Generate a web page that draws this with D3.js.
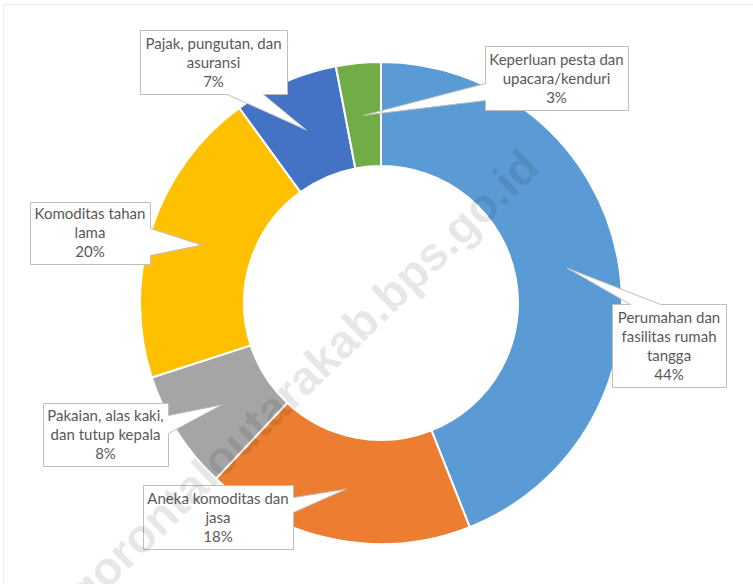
<!DOCTYPE html>
<html>
<head>
  <meta charset="utf-8">
  <title>Donut - Pengeluaran Non Makanan</title>
  <script src="https://d3js.org/d3.v7.min.js"></script>
  <style>
    body { margin: 0; background: #fff; }
    .callout path { fill: #fff; stroke: #bfbfbf; stroke-width: 1; }
    .callout text { font-family: Lato, "Open Sans", sans-serif; font-size: 15px; fill: #595959; }
  </style>
</head>
<body>
  <svg id="chart" width="753" height="584"></svg>

  <script>
    // data, clockwise from 12 o'clock
    const categories = [
      "Perumahan dan fasilitas rumah tangga",
      "Aneka komoditas dan jasa",
      "Pakaian, alas kaki, dan tutup kepala",
      "Komoditas tahan lama",
      "Pajak, pungutan, dan asuransi",
      "Keperluan pesta dan upacara/kenduri"
    ];
    const shares = [44, 18, 8, 20, 7, 3];
    const labelLines = [
      ["Perumahan dan", "fasilitas rumah", "tangga"],
      ["Aneka komoditas dan", "jasa"],
      ["Pakaian, alas kaki,", "dan tutup kepala"],
      ["Komoditas tahan", "lama"],
      ["Pajak, pungutan, dan", "asuransi"],
      ["Keperluan pesta dan", "upacara/kenduri"]
    ];
    const colors = ["#5b9bd5", "#ed7d31", "#a5a5a5", "#ffc000", "#4472c4", "#70ad47"];

    // callout boxes: x, y, w, h, side the pointer leaves from, pointer base span on that side
    const boxes = [
      { x: 612, y: 304, w: 114, h: 83, side: "top", b0: 18, b1: 48 },
      { x: 143, y: 485, w: 150, h: 64, side: "right", b0: 12, b1: 27 },
      { x: 43, y: 403, w: 125, h: 63, side: "right", b0: 12, b1: 30 },
      { x: 30, y: 202, w: 120, h: 62, side: "right", b0: 26, b1: 53 },
      { x: 140, y: 30, w: 147, h: 64, side: "bottom", b0: 87, b1: 123 },
      { x: 485, y: 46, w: 143, h: 64, side: "left", b0: 37, b1: 54 }
    ];

    const svg = d3.select("#chart");
    const cx = 381, cy = 303, rOuter = 241, rInner = 137;

    svg.append("rect")
      .attr("x", 3.5).attr("y", 4.5)
      .attr("width", 800).attr("height", 700)
      .attr("fill", "none").attr("stroke", "#eeeeee");

    const pie = d3.pie().sort(null).value(d => d);
    const arcs = pie(shares);
    const arc = d3.arc().innerRadius(rInner).outerRadius(rOuter);

    const g = svg.append("g").attr("transform", `translate(${cx},${cy})`);

    g.selectAll("path.slice")
      .data(arcs)
      .join("path")
      .attr("class", "slice")
      .attr("d", arc)
      .attr("fill", (d, i) => colors[i])
      .attr("stroke", "#fff")
      .attr("stroke-width", 2)
      .append("title")
      .text((d, i) => `${categories[i]}: ${shares[i]}%`);

    // callout shape: rectangle with a wedge running to the slice centroid
    function calloutPath(b, tip) {
      const { x, y, w, h, side, b0, b1 } = b;
      const [tx, ty] = tip;
      let pts;
      if (side === "top") {
        pts = [[x, y], [x + b0, y], [tx, ty], [x + b1, y], [x + w, y], [x + w, y + h], [x, y + h]];
      } else if (side === "bottom") {
        pts = [[x, y], [x + w, y], [x + w, y + h], [x + b1, y + h], [tx, ty], [x + b0, y + h], [x, y + h]];
      } else if (side === "right") {
        pts = [[x, y], [x + w, y], [x + w, y + b0], [tx, ty], [x + w, y + b1], [x + w, y + h], [x, y + h]];
      } else {
        pts = [[x, y], [x + w, y], [x + w, y + h], [x, y + h], [x, y + b1], [tx, ty], [x, y + b0]];
      }
      return "M" + pts.map(p => p.map(v => v + 0.5).join(",")).join("L") + "Z";
    }

    const callouts = svg.append("g")
      .selectAll("g")
      .data(arcs)
      .join("g")
      .attr("class", "callout");

    callouts.append("path")
      .attr("d", (d, i) => {
        const c = arc.centroid(d);
        return calloutPath(boxes[i], [c[0] + cx, c[1] + cy]);
      });

    callouts.append("text")
      .attr("text-anchor", "middle")
      .each(function (d, i) {
        const b = boxes[i];
        const lines = labelLines[i].concat([shares[i] + "%"]);
        const t = d3.select(this);
        lines.forEach((ln, k) => {
          t.append("tspan")
            .attr("x", b.x + b.w / 2)
            .attr("y", b.y + b.h - 7 - (lines.length - 1 - k) * 19)
            .text(ln);
        });
      });

    // watermark (runs off the bottom-left edge, as in the original)
    svg.append("text")
      .attr("transform", "translate(542,170) rotate(-44)")
      .attr("text-anchor", "end")
      .attr("font-family", "Liberation Sans, Arial, sans-serif")
      .attr("font-weight", "bold")
      .attr("font-size", 47)
      .attr("fill", "#000")
      .attr("fill-opacity", 0.1)
      .text("gorontaloutarakab.bps.go.id");
  </script>
</body>
</html>
